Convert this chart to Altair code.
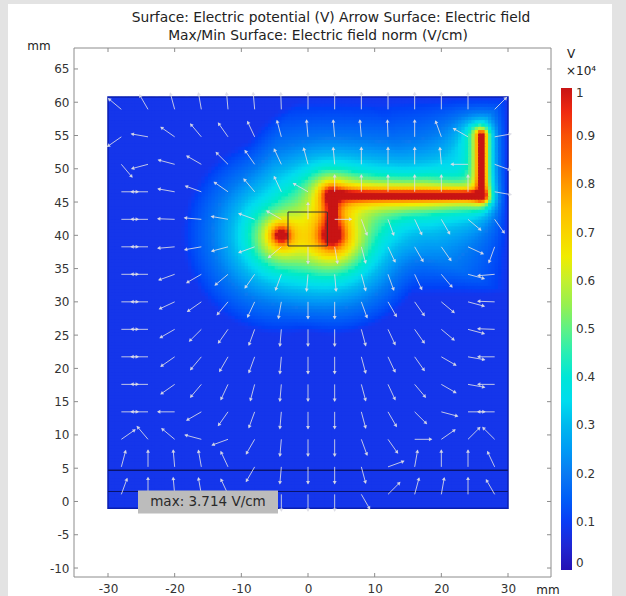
import numpy as np
import pandas as pd
import altair as alt

alt.data_transformers.disable_max_rows()

# ---------------- geometry (mm) ----------------
box_x = [-30.0, 30.0]
box_y = [-1.0, 60.8]
layer_line_y = [4.7, 1.5]
chip_x = [-3.0, 2.9]
chip_y = [38.4, 43.5]

# electrode pieces seen in the section: two lead cross-sections and the bent wire
elec_x0 = [-4.0, 3.6, 3.6, 3.6, 26.0]
elec_y0 = [40.0, 40.0, 40.0, 46.0, 46.0]
elec_x1 = [-4.0, 3.6, 3.6, 26.0, 26.0]
elec_y1 = [40.0, 40.0, 46.0, 46.0, 55.0]
elec_r = [0.75, 0.75, 0.45, 0.45, 0.45]
electrode_volts = 10000.0
background_frac = 0.085
ground_radius = 15.0      # distance at which a lead's potential reaches ground
wall_reach = 0.5          # how strongly the grounded walls pull the potential down
blend_power = 2.5         # how the contributions of neighbouring pieces add up

# arrow grid (tail positions) and field directions in degrees, rows listed top to bottom
arrow_x = [-28.0, -24.0, -20.0, -16.0, -12.0, -8.0, -4.0, 0.0, 4.0, 8.0, 12.0, 16.0, 20.0, 24.0, 28.0]
arrow_y = [58.93, 54.8, 50.67, 46.54, 42.4, 38.27, 34.14, 30.0, 25.87, 21.74, 17.6, 13.47, 9.34, 5.2, 1.07]
arrow_deg = [
    [140, 120, 105, 100, 95, 95, 92, 90, 90, 90, 90, 90, 90, 90, 45],
    [215, 170, 145, 130, 125, 115, 105, 95, 95, 95, 92, 90, 110, 150, 10],
    [310, 195, 165, 150, 135, 125, 115, 105, 95, 90, 90, 90, 95, 180, 340],
    [0, 180, 170, 160, 145, 130, 115, 150, 90, 90, 90, 90, 90, 90, 350],
    [0, 180, 178, 175, 170, 160, 150, 90, 0, 290, 290, 295, 300, 320, 305],
    [0, 180, 185, 190, 195, 200, 220, 270, 280, 285, 295, 300, 305, 335, 250],
    [0, 180, 200, 210, 220, 235, 250, 265, 275, 285, 290, 295, 310, 345, 185],
    [0, 180, 205, 215, 230, 245, 260, 270, 270, 290, 300, 305, 320, 345, 178],
    [0, 180, 210, 225, 235, 250, 265, 270, 270, 285, 295, 305, 320, 345, 178],
    [0, 180, 215, 230, 240, 250, 265, 270, 270, 285, 295, 305, 330, 350, 180],
    [0, 180, 215, 230, 245, 255, 265, 270, 270, 285, 295, 310, 330, 350, 180],
    [0, 180, 180, 210, 235, 250, 265, 270, 270, 285, 300, 315, 345, 0, 180],
    [35, 130, 140, 165, 200, 240, 265, 270, 270, 290, 305, 0, 35, 45, 135],
    [75, 90, 95, 100, 115, 240, 265, 270, 270, 285, 20, 80, 90, 90, 115],
    [70, 90, 95, 100, 115, 330, 270, 270, 270, 300, 45, 75, 80, 90, 120],
]

# axis ticks and colour bar
x_ticks = [-30, -20, -10, 0, 10, 20, 30]
y_ticks = [-10, -5, 0, 5, 10, 15, 20, 25, 30, 35, 40, 45, 50, 55, 60, 65]
cbar_values = [0, 1000, 2000, 3000, 4000, 5000, 6000, 7000, 8000, 9000, 10000]
cmap_stops = [0, 1000, 2000, 3000, 3500, 4500, 5500, 6500, 7500, 8500, 9500, 10000]
cmap_colors = ["#2410b4", "#0a3cf5", "#0a7af2", "#00b8ee", "#00dcee", "#28eeb4",
               "#96f050", "#f0ec00", "#ffbc00", "#ff7000", "#f02a10", "#c81414"]

title_lines = ["Surface: Electric potential (V)  Arrow Surface: Electric field",
               "Max/Min Surface: Electric field norm (V/cm)"]
max_label = "max: 3.714 V/cm"
max_box_x = [-25.5, -4.5]
max_box_y = [-1.8, 1.65]

X_DOM = [-35.1, 36.45]
Y_DOM = [-11.35, 68.15]


# ---------------- potential around the electrode ----------------
def seg_dist(px, py, x0, y0, x1, y1):
    vx, vy = x1 - x0, y1 - y0
    ll = vx * vx + vy * vy
    t = np.zeros_like(px) if ll == 0 else np.clip(((px - x0) * vx + (py - y0) * vy) / ll, 0, 1)
    return np.hypot(px - (x0 + t * vx), py - (y0 + t * vy))


nx, ny = 120, 124
dx = (box_x[1] - box_x[0]) / nx
dy = (box_y[1] - box_y[0]) / ny
xc = box_x[0] + dx * (np.arange(nx) + 0.5)
yc = box_y[0] + dy * (np.arange(ny) + 0.5)
GX, GY = np.meshgrid(xc, yc)

# distance to the grounded enclosure
wall = np.minimum.reduce([GX - box_x[0], box_x[1] - GX, GY - box_y[0], box_y[1] - GY])

# logarithmic fall-off around each wire (cylindrical field), walls shorten the reach
acc = np.zeros_like(GX)
for k in range(len(elec_x0)):
    a = elec_r[k]
    r = np.maximum(seg_dist(GX, GY, elec_x0[k], elec_y0[k], elec_x1[k], elec_y1[k]), a)
    R = np.maximum(np.minimum(ground_radius, r + wall_reach * wall), a * 1.0001)
    uk = np.clip(np.log(R / r) / np.log(R / a), 0.0, 1.0)
    acc += uk ** blend_power
u = np.clip(acc ** (1.0 / blend_power), 0.0, 1.0)
V = electrode_volts * (background_frac + (1 - background_frac) * u)

cells = pd.DataFrame({
    "x": np.round(GX.ravel() - dx / 2, 3),
    "y": np.round(GY.ravel() - dy / 2, 3),
    "v": np.round(V.ravel()).astype(int),
})

# ---------------- arrows ----------------
rows = []
arrow_len = 2.9
for j, yv in enumerate(arrow_y):
    for i, xv in enumerate(arrow_x):
        th = np.deg2rad(arrow_deg[j][i])
        ux, uy = np.cos(th), np.sin(th)
        rows.append({
            "x": xv, "y": yv,
            "xe": xv + (arrow_len - 0.4) * ux, "ye": yv + (arrow_len - 0.4) * uy,
            "xh": xv + (arrow_len - 0.5) * ux, "yh": yv + (arrow_len - 0.5) * uy,
            "ang": (90 - arrow_deg[j][i]) % 360,
        })
arrows = pd.DataFrame(rows)

# ---------------- chart ----------------
FONT = "DejaVu Sans"
xs = alt.Scale(domain=X_DOM, nice=False, zero=False)
ys = alt.Scale(domain=Y_DOM, nice=False, zero=False)
xaxis = alt.Axis(values=x_ticks, title=None, ticks=False, domain=False, grid=False,
                 labelPadding=6, labelFont=FONT, labelFontSize=12, labelColor="#333333",
                 zindex=1, labelExpr="'' + datum.value")
yaxis = alt.Axis(values=y_ticks, title=None, ticks=False, domain=False, grid=False,
                 labelPadding=5, labelFont=FONT, labelFontSize=12, labelColor="#333333",
                 zindex=1, labelExpr="'' + datum.value")


def X(field):
    return alt.X(field, type="quantitative", scale=xs, axis=xaxis)


def Y(field):
    return alt.Y(field, type="quantitative", scale=ys, axis=yaxis)


one = pd.DataFrame({"k": [0]})

panel = alt.Chart(one).mark_rect(color="white").encode(
    x=alt.value(-66), x2=alt.value(538), y=alt.value(-44), y2=alt.value(560))

heat = alt.Chart(cells).transform_calculate(
    x2=f"min(datum.x + {dx + 0.14}, {box_x[1]})",
    y2=f"min(datum.y + {dy + 0.14}, {box_y[1]})",
).mark_rect(strokeWidth=0).encode(
    x=X("x"), x2="x2:Q", y=Y("y"), y2="y2:Q",
    color=alt.Color("v:Q", scale=alt.Scale(domain=cmap_stops, range=cmap_colors),
                    legend=alt.Legend(orient="none", legendX=487, legendY=40,
                                      direction="vertical", gradientLength=482,
                                      gradientThickness=11, values=cbar_values,
                                      labelExpr="datum.value == 0 ? '0' : datum.value == 10000 ? '1' : format(datum.value / 10000, '.1f')",
                                      labelFont=FONT, labelFontSize=12, labelColor="#333333",
                                      labelOffset=4, labelOverlap=False, title=None,
                                      gradientStrokeWidth=0)),
)

box = alt.Chart(pd.DataFrame({"x": [box_x[0]], "x2": [box_x[1]], "y": [box_y[0]], "y2": [box_y[1]]})).mark_rect(
    fill=None, stroke="#0a1eb0", strokeWidth=1.5).encode(x=X("x"), x2="x2:Q", y=Y("y"), y2="y2:Q")

layer_lines = alt.Chart(pd.DataFrame({"y": layer_line_y, "w": [1.6, 1.0],
                                      "x": [box_x[0]] * 2, "x2": [box_x[1]] * 2})).mark_rule(
    color="#0a146e").encode(x=X("x"), x2="x2:Q", y=Y("y"),
                            strokeWidth=alt.StrokeWidth("w:Q", scale=None))

chip = alt.Chart(pd.DataFrame({"x": [chip_x[0]], "x2": [chip_x[1]], "y": [chip_y[0]], "y2": [chip_y[1]]})).mark_rect(
    fill=None, stroke="#333333", strokeWidth=1).encode(x=X("x"), x2="x2:Q", y=Y("y"), y2="y2:Q")

shafts = alt.Chart(arrows).mark_rule(color="#dedee6", strokeWidth=1.0, opacity=0.85).encode(
    x=X("x"), y=Y("y"), x2="xe:Q", y2="ye:Q")
heads = alt.Chart(arrows).mark_point(shape="triangle-up", filled=True, size=16,
                                     color="#dedee6", opacity=0.85).encode(
    x=X("xh"), y=Y("yh"), angle=alt.Angle("ang:Q", scale=None))

max_box = alt.Chart(pd.DataFrame({"x": [max_box_x[0]], "x2": [max_box_x[1]],
                                  "y": [max_box_y[0]], "y2": [max_box_y[1]]})).mark_rect(
    color="#bcbcbc").encode(x=X("x"), x2="x2:Q", y=Y("y"), y2="y2:Q")
max_text = alt.Chart(pd.DataFrame({"t": [max_label], "x": [sum(max_box_x) / 2],
                                   "y": [sum(max_box_y) / 2]})).mark_text(
    font=FONT, fontSize=13.5, color="#2a2a2a", baseline="middle").encode(
    x=X("x"), y=Y("y"), text="t:N")

# inward ticks on all four sides of the frame
tk = 0.6
tick_rows = []
for v in x_ticks:
    tick_rows.append({"x": v, "x2": v, "y": Y_DOM[0], "y2": Y_DOM[0] + tk})
    tick_rows.append({"x": v, "x2": v, "y": Y_DOM[1], "y2": Y_DOM[1] - tk})
for v in y_ticks:
    tick_rows.append({"x": X_DOM[0], "x2": X_DOM[0] + tk, "y": v, "y2": v})
    tick_rows.append({"x": X_DOM[1], "x2": X_DOM[1] - tk, "y": v, "y2": v})
ticks = alt.Chart(pd.DataFrame(tick_rows)).mark_rule(color="#8c8c8c", strokeWidth=1).encode(
    x=X("x"), x2="x2:Q", y=Y("y"), y2="y2:Q")

frame = alt.Chart(one).mark_rect(fill=None, stroke="#8c8c8c", strokeWidth=1).encode(
    x=alt.value(0), x2=alt.value(477), y=alt.value(0), y2=alt.value(529))


def label(text, x, y, size=12, align="center"):
    return alt.Chart(pd.DataFrame({"t": [text]})).mark_text(
        font=FONT, fontSize=size, color="#222222", align=align, baseline="middle").encode(
        x=alt.value(x), y=alt.value(y), text="t:N")


texts = [
    label(title_lines[0], 257, -30, size=13.8),
    label(title_lines[1], 244, -12, size=13.8),
    label("mm", -35, -2),
    label("mm", 474, 542),
    label("V", 497, 6),
    label("\u00d710\u2074", 492, 23, align="left"),
]

chart = alt.layer(
    panel, heat, box, layer_lines, chip, shafts, heads, max_box, max_text, ticks, frame, *texts
).properties(
    width=477, height=529,
    autosize=alt.AutoSizeParams(type="none"),
    padding={"left": 74, "top": 48, "right": 75, "bottom": 19},
    background="#e3e3e3",
).configure_view(strokeWidth=0)

chart.save("out.html", embed_options={"renderer": "svg", "actions": False})
